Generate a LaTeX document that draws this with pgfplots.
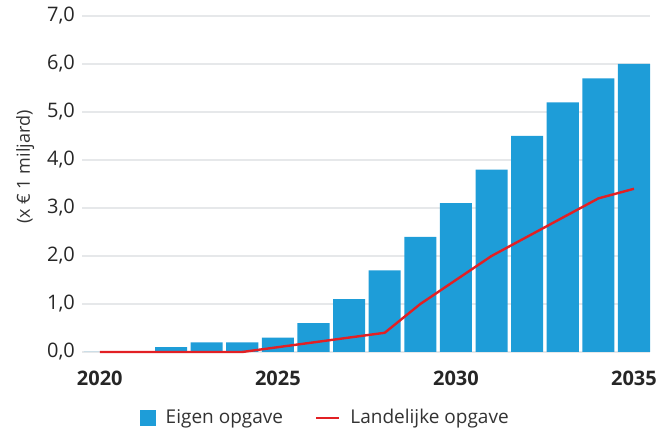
\documentclass[border=0pt]{standalone}
\usepackage{pgfplots}
\pgfplotsset{compat=1.18}
\usepackage{fontspec}
\setmainfont{Open Sans}
\definecolor{barblue}{RGB}{30,157,216}
\definecolor{linered}{RGB}{226,32,36}
\definecolor{gridgray}{RGB}{230,232,234}
\begin{document}
\begin{tikzpicture}
\begin{axis}[
    name=ax,
    scale only axis,
    width=284pt, height=168pt,
    xmin=2019.5, xmax=2035.45,
    ymin=0, ymax=7,
    axis line style={draw=none},
    ytick={0,1,...,7},
    xtick={2020,2025,2030,2035},
    ymajorgrids,
    grid style={gridgray, line width=1pt},
    major tick length=0pt,
    /pgf/number format/assume math mode=true,
    y tick label style={/pgf/number format/.cd, fixed, fixed zerofill, precision=1, use comma},
    x tick label style={/pgf/number format/1000 sep={}, font=\fontsize{10}{12}\selectfont\bfseries, yshift=-6pt},
    tick label style={font=\fontsize{10}{12}\selectfont, text=black!85},
    ylabel={(x € 1 miljard)},
    y label style={at={(axis description cs:-0.1,0.55)}, anchor=center, rotate=0, font=\fontsize{9}{11}\selectfont, text=black!80},
    legend style={at={(0.43,-0.145)}, anchor=north, draw=none, legend columns=2,
        font=\fontsize{9.5}{12}\selectfont, text=black!80,
        /tikz/every odd column/.append style={column sep=3pt},
        /tikz/every even column/.append style={column sep=14pt}},
    legend cell align=left,
    clip=false,
]
\addplot[ybar, bar width=0.9, fill=barblue, draw=none, area legend,
    legend image code/.code={\fill[barblue] (0pt,-4pt) rectangle (8pt,4pt);}]
coordinates {
    (2020,0) (2021,0) (2022,0.1) (2023,0.2) (2024,0.2) (2025,0.3)
    (2026,0.6) (2027,1.1) (2028,1.7) (2029,2.4) (2030,3.1) (2031,3.8)
    (2032,4.5) (2033,5.2) (2034,5.7) (2035,6.0)
};
\addlegendentry{Eigen opgave}
\addplot[linered, line width=1.2pt, mark=none,
    legend image code/.code={\draw[linered, line width=1.2pt] (0pt,0pt) -- (11.5pt,0pt);}]
coordinates {
    (2020,0) (2021,0) (2022,0) (2023,0) (2024,0) (2025,0.1)
    (2026,0.2) (2027,0.3) (2028,0.4) (2029,1.0) (2030,1.5) (2031,2.0)
    (2032,2.4) (2033,2.8) (2034,3.2) (2035,3.4)
};
\addlegendentry{Landelijke opgave}
\end{axis}
\pgfresetboundingbox
\path[use as bounding box] ([xshift=-41pt,yshift=-38pt]ax.south west) rectangle ([xshift=3.5pt,yshift=8pt]ax.north east);
\end{tikzpicture}
\end{document}
